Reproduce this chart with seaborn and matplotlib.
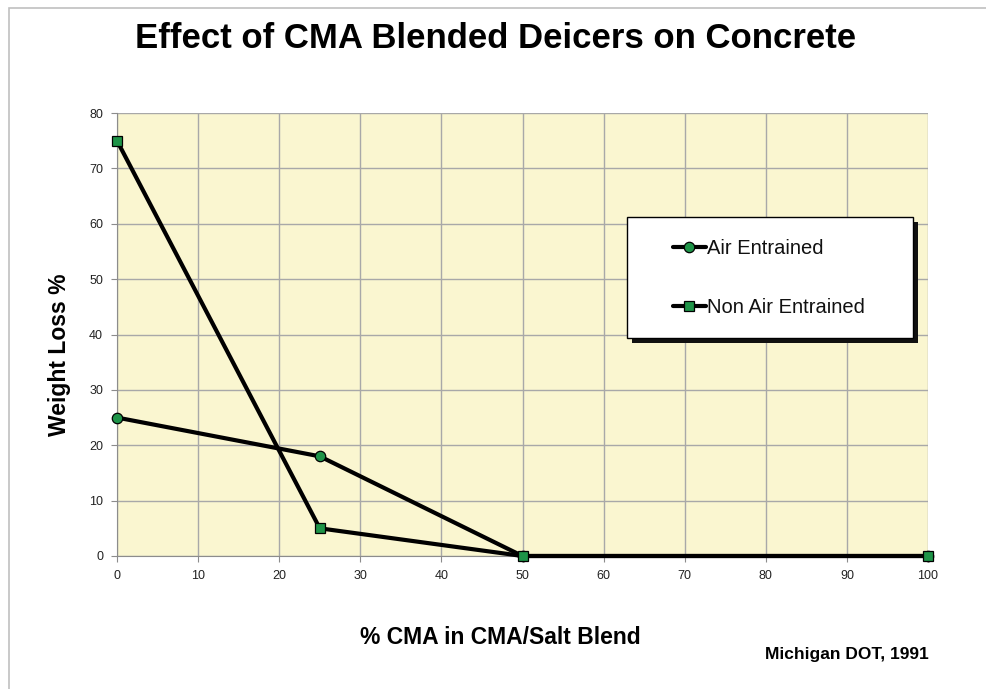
import pandas as pd
import matplotlib.pyplot as plt
import seaborn as sns
from matplotlib.patches import Rectangle

cma_pct = [0, 25, 50, 100]
air_entrained = [25, 18, 0, 0]
non_air_entrained = [75, 5, 0, 0]
series_names = ["Air Entrained", "Non Air Entrained"]
x_ticks = list(range(0, 101, 10))
y_ticks = list(range(0, 81, 10))


def main():
    df = pd.DataFrame({
        "cma": cma_pct * 2,
        "loss": air_entrained + non_air_entrained,
        "series": [series_names[0]] * len(cma_pct) + [series_names[1]] * len(cma_pct),
    })

    sns.set_style("white")
    plt.rcParams["font.family"] = ["Liberation Sans", "DejaVu Sans"]

    W, H = 987, 689
    fig = plt.figure(figsize=(9.87, 6.89), dpi=100)
    # chart border (only top/left show in the original crop)
    fig.patches.append(Rectangle((9 / W, -0.1), 1.0, 1.1 - 8 / H,
                                 transform=fig.transFigure, fill=False,
                                 edgecolor="#c0c0c0", linewidth=1.2))
    ax = fig.add_axes([117 / W, 1 - 556 / H, 811 / W, 443 / H])
    ax.set_facecolor("#faf6d0")

    sns.lineplot(data=df, x="cma", y="loss", hue="series", style="series",
                 palette=["black", "black"], markers=["o", "s"], dashes=False,
                 linewidth=3.0, markersize=7.5, markerfacecolor="#1e9448",
                 markeredgecolor="black", markeredgewidth=0.9, ax=ax, zorder=3,
                 clip_on=False)

    ax.set_xlim(0, 100)
    ax.set_ylim(0, 80)
    ax.set_xticks(x_ticks)
    ax.set_yticks(y_ticks)
    ax.grid(True, color="#a8a8a8", linewidth=1.0)
    ax.set_axisbelow(True)
    for side in ["top", "right"]:
        ax.spines[side].set_visible(False)
    for side in ["left", "bottom"]:
        ax.spines[side].set_color("#8c8c8c")
    ax.tick_params(axis="both", labelsize=9, labelcolor="#222222", color="#8c8c8c",
                   length=4, direction="out", left=True, bottom=True, pad=6)
    ax.set_xlabel("")
    ax.set_ylabel("")

    fig.text(496 / W, 1 - 39 / H, "Effect of CMA Blended Deicers on Concrete",
             ha="center", va="center", fontsize=25, fontweight="bold", color="black")
    fig.text(500 / W, 1 - 638 / H, "% CMA in CMA/Salt Blend", ha="center", va="center",
             fontsize=16.5, fontweight="bold", color="black")
    fig.text(60 / W, 1 - 355 / H, "Weight Loss %", ha="center", va="center",
             rotation=90, fontsize=16.5, fontweight="bold", color="black")
    fig.text(847 / W, 1 - 655 / H, "Michigan DOT, 1991", ha="center", va="center",
             fontsize=12.5, fontweight="bold", color="black")

    # legend box with drop shadow
    bx, by, bw, bh = 0.629, 0.492, 0.3527, 0.273
    dx, dy = 5 / 811, 5 / 443
    ax.add_patch(Rectangle((bx + dx, by - dy), bw, bh, transform=ax.transAxes,
                           facecolor="#111111", edgecolor="none", zorder=5))
    ax.add_patch(Rectangle((bx, by), bw, bh, transform=ax.transAxes,
                           facecolor="white", edgecolor="black", linewidth=1.0, zorder=6))
    leg = ax.legend(loc="center left", bbox_to_anchor=(0.686, 0.6275),
                    fontsize=14.5, frameon=False, borderpad=0, labelspacing=1.95,
                    handlelength=1.6, handletextpad=0.05, borderaxespad=0, title=None)
    leg.set_zorder(7)
    for h in leg.get_lines():
        h.set_linewidth(3.0)
    for t in leg.get_texts():
        t.set_color("#111111")

    fig.savefig("out.png", dpi=100)


if __name__ == "__main__":
    main()
